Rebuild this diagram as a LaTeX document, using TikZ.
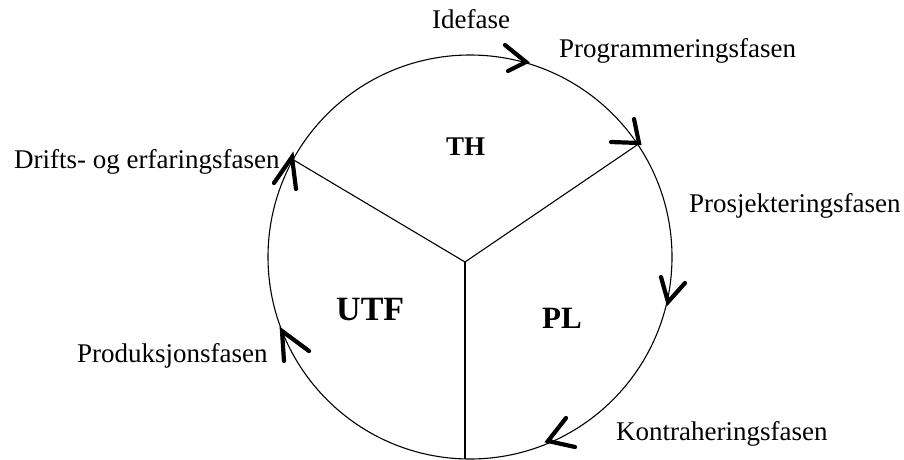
\documentclass[tikz,border=0pt]{standalone}
\usepackage{fontspec}
\setmainfont{Liberation Serif}
\begin{document}
\begin{tikzpicture}[x=1pt,y=-1pt,
  lbl/.style={anchor=base west,inner sep=0pt,font=\fontsize{27}{32}\selectfont},
  big/.style={anchor=base west,inner sep=0pt,font=\bfseries\fontsize{#1}{#1}\selectfont},
  ring/.style={line width=1.1pt},
  spoke/.style={line width=1.1pt},
  head/.style={line width=4.2pt,line cap=round,line join=miter}]
\useasboundingbox (0,0) rectangle (904,460);
\coordinate (c) at (470,257);
\coordinate (j) at (465,262);
\coordinate (ur) at (640,143);
\coordinate (ul) at (292,159);
\coordinate (bt) at (465,459);
\draw[ring] (c) circle[radius=202];
\draw[spoke] (j) -- (ur);
\draw[spoke] (j) -- (ul);
\draw[spoke] (j) -- (bt);
% arrowheads
\draw[head] (505,45) -- (526,62) -- (508,71);
\draw[head] (634,119) -- (639,143) -- (611,142);
\draw[head] (661,277) -- (668,302) -- (685,283);
\draw[head] (566,418) -- (548,441) -- (575,447);
\draw[head] (284,361) -- (282,331) -- (309,351);
\draw[head] (274,183) -- (292,157) -- (296,189);
% labels
\node[lbl] (idefase) at (432,29) {Idefase};
\node[lbl] (prog) at (559,58) {Programmeringsfasen};
\node[lbl] (drift) at (14,168) {Drifts- og erfaringsfasen};
\node[lbl] (prosj) at (689,212) {Prosjekteringsfasen};
\node[lbl] (prod) at (77,362) {Produksjonsfasen};
\node[lbl] (kontra) at (616,440) {Kontraheringsfasen};
\node[big=27] (th) at (446,155) {TH};
\node[big=34] (utf) at (336,320) {UTF};
\node[big=31] (pl) at (542,328) {PL};
\end{tikzpicture}
\end{document}
